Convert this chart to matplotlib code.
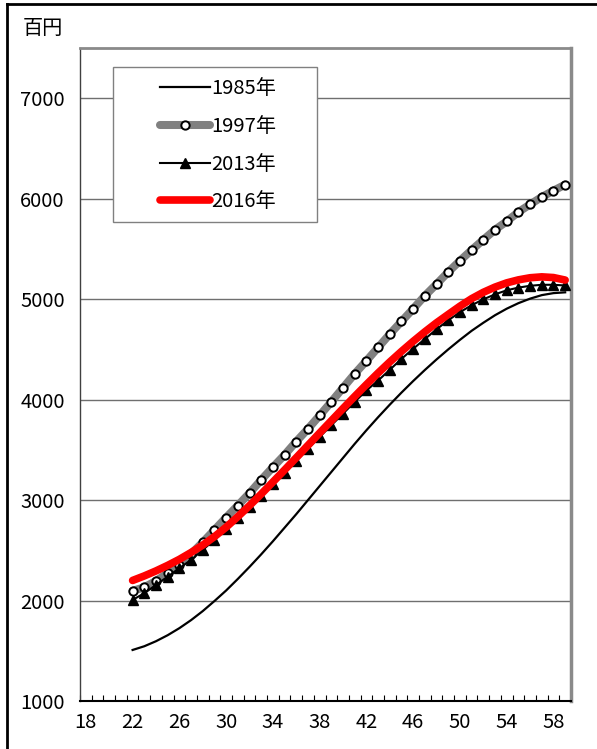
import matplotlib
matplotlib.use("Agg")
import matplotlib.pyplot as plt
from matplotlib.patches import Rectangle
from matplotlib.lines import Line2D

plt.rcParams['font.family'] = ['Noto Sans CJK JP', 'DejaVu Sans']

ages = list(range(22, 60))
y1985 = [1508, 1545, 1595, 1655, 1725, 1805, 1895, 1995, 2100, 2215,
         2335, 2460, 2590, 2725, 2860, 3000, 3140, 3280, 3420, 3560,
         3695, 3825, 3950, 4070, 4185, 4295, 4400, 4500, 4595, 4685,
         4765, 4840, 4905, 4960, 5005, 5040, 5060, 5068]
y1997 = [2096, 2132, 2195, 2272, 2355, 2464, 2580, 2703, 2826, 2946,
         3069, 3201, 3327, 3450, 3583, 3709, 3842, 3978, 4118, 4257,
         4386, 4519, 4652, 4778, 4904, 5034, 5150, 5270, 5382, 5489,
         5591, 5691, 5774, 5867, 5943, 6017, 6080, 6140]
y2013 = [2006, 2073, 2155, 2238, 2322, 2404, 2504, 2604, 2713, 2826,
         2935, 3042, 3158, 3274, 3390, 3510, 3628, 3745, 3860, 3978,
         4091, 4190, 4297, 4406, 4506, 4603, 4700, 4790, 4870, 4940,
         4998, 5048, 5088, 5115, 5133, 5143, 5143, 5136]
y2016 = [2200, 2245, 2295, 2350, 2410, 2478, 2552, 2636, 2730, 2835,
         2945, 3060, 3180, 3300, 3422, 3545, 3668, 3790, 3912, 4032,
         4150, 4265, 4375, 4480, 4580, 4675, 4765, 4848, 4930, 5005,
         5068, 5120, 5162, 5192, 5213, 5222, 5215, 5190]
series_labels = ['1985年', '1997年', '2013年', '2016年']
xtick_vals = list(range(18, 59, 4))
ytick_vals = list(range(1000, 7001, 1000))
unit_label = '百円'

FS = 14.5

fig = plt.figure(figsize=(5.97, 7.49), dpi=100)
ax = fig.add_axes([80/597, 1-701/749, 491/597, 653/749])

ax.plot(ages, y1985, color='black', lw=1.6, label=series_labels[0], zorder=4)
ax.plot(ages, y1997, color='#808080', lw=5.8, solid_capstyle='round',
        marker='o', ms=6, mfc='white', mec='black', mew=1.4,
        label=series_labels[1], zorder=5)
ax.plot(ages, y2013, color='black', lw=1.5, marker='^', ms=6.5,
        mfc='black', mec='black', label=series_labels[2], zorder=6)
ax.plot(ages, y2016, color='#ff0000', lw=5.5, solid_capstyle='round',
        label=series_labels[3], zorder=7)

ax.set_xlim(17.5, 59.5)
ax.set_ylim(1000, 7500)
ax.set_xticks(xtick_vals)
ax.set_xticklabels([str(v) for v in xtick_vals], fontsize=FS)
ax.set_xticks([17.5 + k for k in range(43)], minor=True)
ax.tick_params(axis='x', which='major', length=0, pad=8)
ax.tick_params(axis='x', which='minor', direction='in', length=4, width=0.8, color='black')
ax.set_yticks(ytick_vals)
ax.set_yticklabels([str(v) for v in ytick_vals], fontsize=FS)
ax.tick_params(axis='y', which='both', length=0, pad=11)

ax.grid(axis='y', color='#6f6f6f', lw=1.0, zorder=1)
ax.set_axisbelow(True)

ax.spines['left'].set_color('#404040')
ax.spines['left'].set_linewidth(1.0)
ax.spines['bottom'].set_color('black')
ax.spines['bottom'].set_linewidth(1.5)
ax.spines['top'].set_color('#8a8a8a')
ax.spines['top'].set_linewidth(2.0)
ax.spines['right'].set_color('#8a8a8a')
ax.spines['right'].set_linewidth(2.5)

# legend box
x0 = (113-80)/491; x1 = (317-80)/491
yt = (701-67)/653; yb = (701-222)/653
ax.add_patch(Rectangle((x0, yb), x1-x0, yt-yb, transform=ax.transAxes,
                       facecolor='white', edgecolor='#808080', lw=1.0, zorder=8))
leg = ax.legend(loc='upper left', bbox_to_anchor=(0.143, 0.969), frameon=False,
                fontsize=FS, handlelength=2.45, handletextpad=0.1,
                labelspacing=0.83, numpoints=1, borderpad=0)
leg.set_zorder(9)

fig.text(23/597, 1-29/749, unit_label, fontsize=FS, va='center', ha='left')

# outer frame
fig.add_artist(Line2D([7/597, 7/597], [0, 1-4/749], transform=fig.transFigure,
                      color='black', lw=2.0))
fig.add_artist(Line2D([7/597, 1], [1-4/749, 1-4/749], transform=fig.transFigure,
                      color='black', lw=2.0))

fig.savefig('out.png', dpi=100)
